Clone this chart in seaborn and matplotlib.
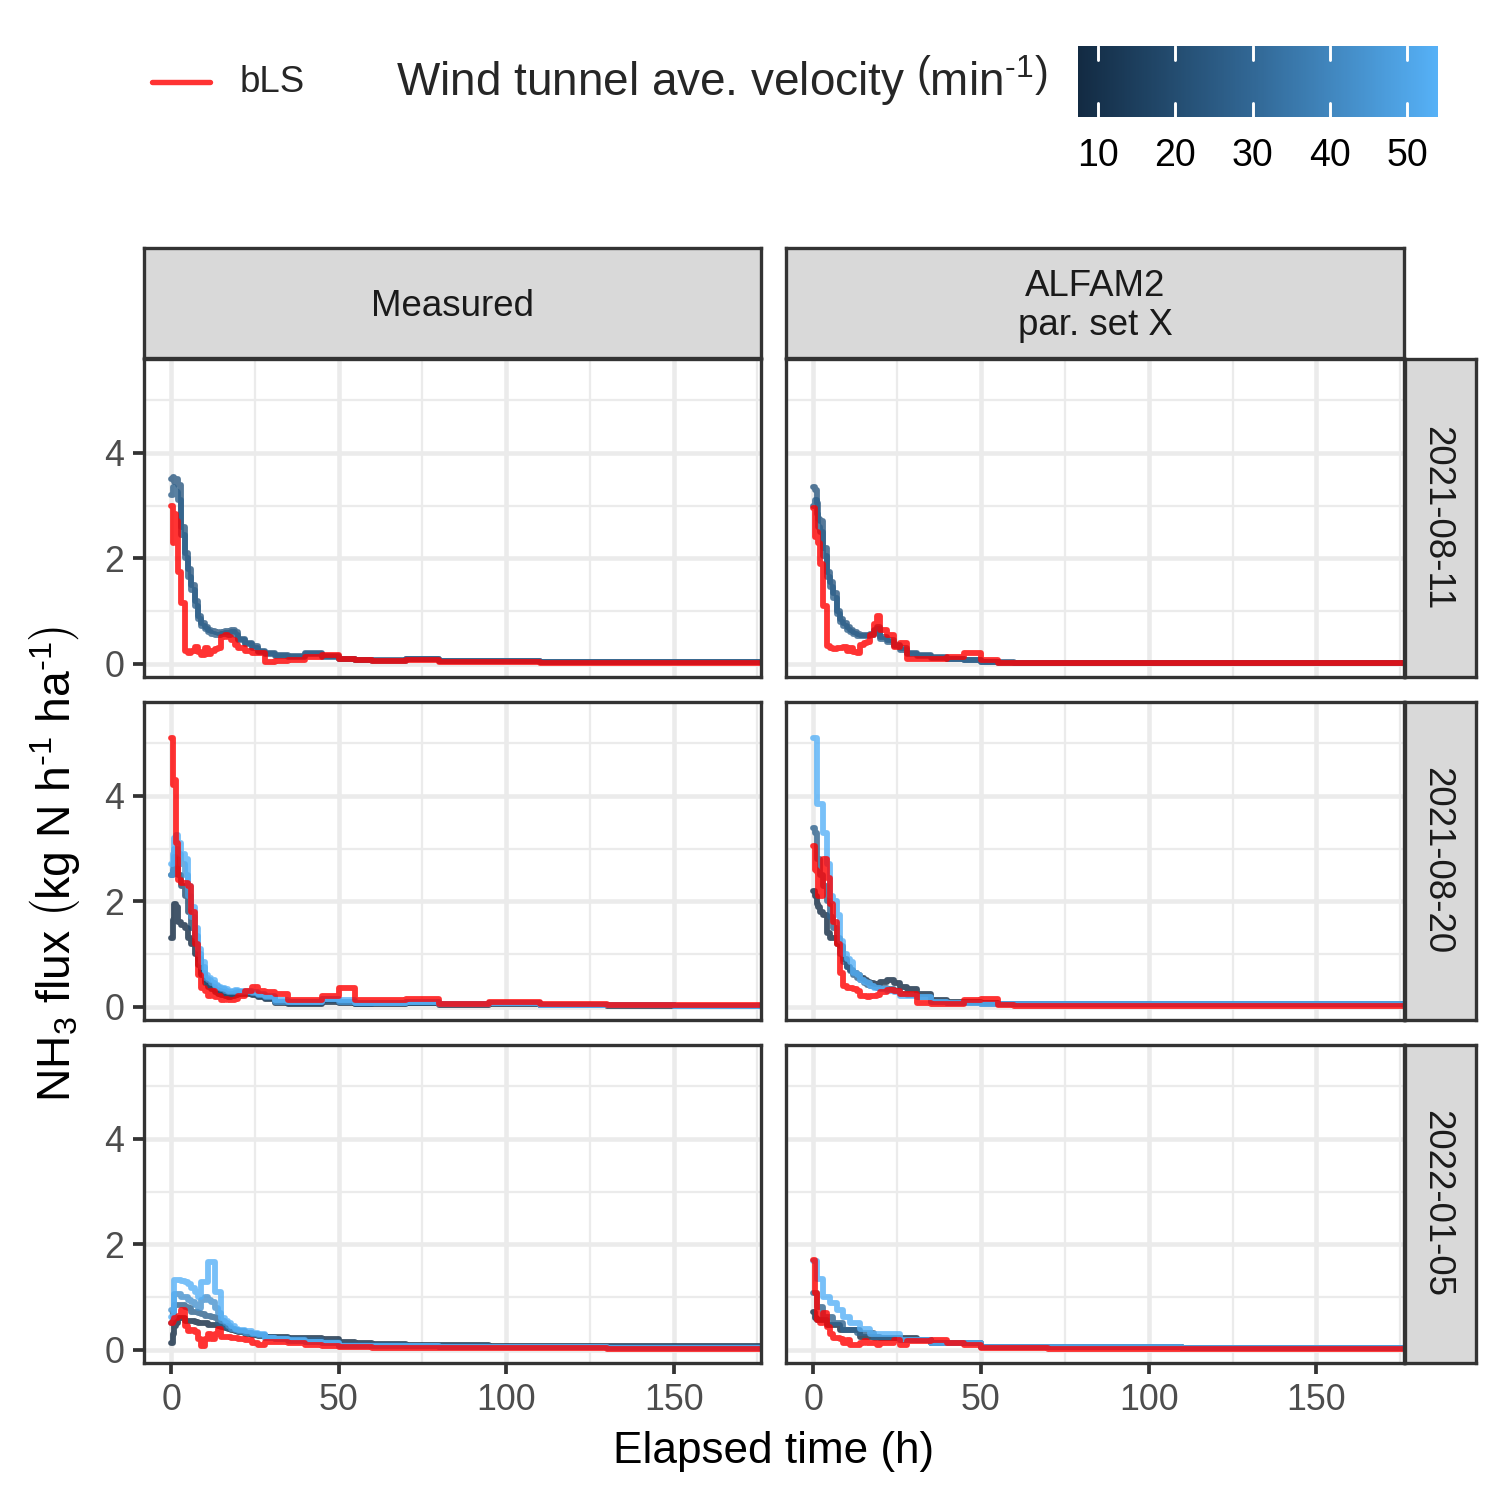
import numpy as np
import pandas as pd
import matplotlib
matplotlib.use("Agg")
import matplotlib.pyplot as plt
import seaborn as sns
from matplotlib.colors import LinearSegmentedColormap, Normalize
from matplotlib.lines import Line2D

# ---------------- data ----------------
elapsed_h = [0, 0.5, 1, 1.5, 2, 3, 4, 5, 6, 7,
             8, 9, 10, 11, 12, 13, 14, 15, 16, 17,
             18, 19, 20, 22, 24, 26, 28, 31, 35, 40,
             45, 50, 55, 60, 70, 80, 95, 110, 130, 150, 180]

dates = ["2021-08-11", "2021-08-20", "2022-01-05"]
sources = ["Measured", "ALFAM2\npar. set X"]

# 2021-08-11, measured
m1_vel = [24, 27]
m1_a = [3.50, 3.55, 3.45, 3.50, 3.40, 2.60, 2.10, 1.80, 1.50, 1.20,
        0.90, 0.78, 0.70, 0.65, 0.62, 0.60, 0.58, 0.60, 0.62, 0.60,
        0.65, 0.60, 0.48, 0.40, 0.33, 0.25, 0.20, 0.16, 0.14, 0.20,
        0.14, 0.10, 0.08, 0.07, 0.10, 0.05, 0.06, 0.04, 0.03, 0.04, 0.03]
m1_b = [3.20, 3.35, 3.30, 3.25, 3.10, 2.45, 2.00, 1.65, 1.40, 1.10,
        0.85, 0.72, 0.66, 0.60, 0.57, 0.55, 0.55, 0.57, 0.58, 0.55,
        0.60, 0.55, 0.45, 0.38, 0.30, 0.22, 0.18, 0.14, 0.13, 0.18,
        0.12, 0.09, 0.07, 0.06, 0.09, 0.05, 0.05, 0.03, 0.03, 0.04, 0.03]
m1_bls = [3.00, 2.30, 2.85, 2.70, 1.75, 1.15, 0.25, 0.20, 0.25, 0.31,
          0.22, 0.17, 0.30, 0.18, 0.25, 0.28, 0.30, 0.50, 0.55, 0.50,
          0.45, 0.35, 0.30, 0.25, 0.20, 0.20, 0.04, 0.05, 0.07, 0.12,
          0.17, 0.09, 0.07, 0.06, 0.08, 0.03, 0.03, 0.02, 0.02, 0.02, 0.01]

# 2021-08-11, ALFAM2
a1_vel = [24, 27]
a1_a = [3.36, 3.30, 3.05, 2.75, 2.70, 2.20, 1.75, 1.55, 1.35, 1.00,
        0.85, 0.78, 0.70, 0.65, 0.60, 0.57, 0.55, 0.55, 0.55, 0.57,
        0.65, 0.70, 0.50, 0.45, 0.36, 0.30, 0.20, 0.16, 0.12, 0.10,
        0.08, 0.04, 0.03, 0.02, 0.02, 0.02, 0.02, 0.02, 0.02, 0.02, 0.02]
a1_b = [3.00, 3.10, 2.85, 2.60, 2.50, 2.05, 1.65, 1.45, 1.25, 0.95,
        0.80, 0.72, 0.65, 0.60, 0.56, 0.53, 0.52, 0.52, 0.52, 0.55,
        0.62, 0.66, 0.48, 0.42, 0.33, 0.27, 0.18, 0.14, 0.11, 0.09,
        0.07, 0.03, 0.02, 0.02, 0.02, 0.02, 0.02, 0.02, 0.02, 0.02, 0.02]
a1_bls = [2.95, 2.40, 2.50, 2.30, 1.90, 1.10, 0.33, 0.30, 0.28, 0.30,
          0.30, 0.32, 0.25, 0.30, 0.22, 0.20, 0.35, 0.40, 0.42, 0.55,
          0.75, 0.90, 0.65, 0.55, 0.32, 0.40, 0.10, 0.10, 0.10, 0.12,
          0.20, 0.08, 0.02, 0.02, 0.02, 0.02, 0.02, 0.02, 0.02, 0.02, 0.02]

# 2021-08-20, measured
m2_vel = [54, 46, 20, 7.4]
m2_v54 = [2.70, 2.90, 3.20, 3.25, 3.10, 2.90, 2.80, 2.30, 1.90, 1.50,
          1.10, 0.85, 0.60, 0.55, 0.50, 0.42, 0.38, 0.36, 0.34, 0.30,
          0.30, 0.32, 0.30, 0.30, 0.28, 0.25, 0.20, 0.12, 0.10, 0.10,
          0.15, 0.12, 0.08, 0.08, 0.10, 0.06, 0.08, 0.03, 0.03, 0.02, 0.00]
m2_v46 = [2.50, 2.70, 3.00, 3.00, 2.90, 2.70, 2.50, 2.10, 1.70, 1.35,
          1.00, 0.75, 0.55, 0.50, 0.45, 0.40, 0.35, 0.33, 0.30, 0.28,
          0.28, 0.30, 0.28, 0.28, 0.26, 0.22, 0.18, 0.10, 0.10, 0.10,
          0.14, 0.10, 0.07, 0.08, 0.09, 0.05, 0.08, 0.03, 0.03, 0.02, 0.01]
m2_v20 = [2.50, 2.60, 2.85, 2.80, 2.50, 2.30, 2.10, 1.80, 1.50, 1.20,
          0.90, 0.65, 0.50, 0.42, 0.38, 0.32, 0.30, 0.28, 0.25, 0.22,
          0.25, 0.27, 0.28, 0.27, 0.24, 0.20, 0.16, 0.10, 0.08, 0.08,
          0.12, 0.10, 0.06, 0.07, 0.08, 0.05, 0.07, 0.03, 0.03, 0.02, 0.02]
m2_v7 = [1.30, 1.65, 1.95, 1.90, 1.60, 1.55, 1.50, 1.30, 1.20, 1.00,
         0.80, 0.60, 0.45, 0.38, 0.33, 0.28, 0.25, 0.22, 0.20, 0.18,
         0.20, 0.22, 0.25, 0.25, 0.22, 0.18, 0.14, 0.08, 0.06, 0.05,
         0.10, 0.08, 0.05, 0.06, 0.07, 0.04, 0.06, 0.03, 0.02, 0.02, 0.02]
m2_bls = [5.10, 4.20, 4.30, 3.10, 2.40, 2.35, 2.35, 2.30, 1.80, 1.20,
          0.60, 0.35, 0.30, 0.20, 0.30, 0.18, 0.20, 0.13, 0.15, 0.12,
          0.13, 0.15, 0.20, 0.30, 0.38, 0.30, 0.28, 0.25, 0.12, 0.13,
          0.20, 0.35, 0.12, 0.12, 0.15, 0.06, 0.10, 0.06, 0.04, 0.03, 0.02]

# 2021-08-20, ALFAM2
a2_vel = [54, 28, 7.4]
a2_v54 = [5.10, 5.10, 3.85, 3.85, 3.85, 3.30, 2.70, 2.10, 2.00, 1.75,
          1.25, 1.00, 0.90, 0.85, 0.65, 0.60, 0.50, 0.48, 0.45, 0.40,
          0.35, 0.35, 0.33, 0.30, 0.28, 0.20, 0.20, 0.18, 0.10, 0.08,
          0.08, 0.06, 0.05, 0.05, 0.05, 0.05, 0.05, 0.05, 0.05, 0.05, 0.05]
a2_v28 = [3.40, 3.30, 2.80, 2.80, 2.50, 2.30, 2.00, 1.70, 1.50, 1.30,
          1.00, 0.85, 0.75, 0.68, 0.60, 0.55, 0.50, 0.45, 0.42, 0.40,
          0.38, 0.36, 0.35, 0.33, 0.30, 0.25, 0.22, 0.18, 0.10, 0.08,
          0.07, 0.06, 0.05, 0.05, 0.05, 0.05, 0.05, 0.05, 0.05, 0.05, 0.05]
a2_v7 = [2.20, 2.10, 1.95, 1.90, 1.80, 1.75, 1.40, 1.30, 1.30, 1.20,
         1.15, 0.90, 0.75, 0.70, 0.65, 0.60, 0.55, 0.50, 0.47, 0.45,
         0.44, 0.44, 0.47, 0.50, 0.45, 0.38, 0.33, 0.25, 0.12, 0.10,
         0.09, 0.07, 0.06, 0.06, 0.05, 0.05, 0.05, 0.05, 0.05, 0.05, 0.05]
a2_bls = [3.05, 2.60, 2.55, 2.10, 2.10, 2.80, 2.45, 1.95, 1.60, 1.20,
          0.65, 0.40, 0.35, 0.35, 0.33, 0.30, 0.20, 0.20, 0.18, 0.20,
          0.20, 0.22, 0.28, 0.32, 0.30, 0.25, 0.24, 0.07, 0.06, 0.06,
          0.12, 0.15, 0.03, 0.02, 0.02, 0.02, 0.02, 0.02, 0.02, 0.02, 0.02]

# 2022-01-05, measured
m3_vel = [54, 44, 28, 7.4]
m3_v54 = [0.62, 0.62, 1.32, 1.32, 1.32, 1.30, 1.28, 1.25, 1.18, 1.10,
          1.00, 1.28, 1.28, 1.66, 1.66, 1.10, 1.10, 0.60, 0.55, 0.50,
          0.45, 0.40, 0.38, 0.35, 0.32, 0.30, 0.22, 0.20, 0.18, 0.15,
          0.12, 0.08, 0.08, 0.07, 0.07, 0.06, 0.05, 0.05, 0.04, 0.04, 0.03]
m3_v44 = [0.75, 0.75, 1.05, 1.05, 1.05, 1.00, 1.00, 0.95, 0.90, 0.85,
          0.80, 0.95, 1.00, 0.95, 0.90, 0.80, 0.70, 0.55, 0.50, 0.45,
          0.40, 0.38, 0.35, 0.32, 0.30, 0.28, 0.22, 0.20, 0.17, 0.14,
          0.12, 0.08, 0.08, 0.07, 0.07, 0.06, 0.05, 0.05, 0.04, 0.04, 0.03]
m3_v28 = [0.50, 0.70, 0.85, 0.85, 0.85, 0.85, 0.82, 0.80, 0.72, 0.72,
          0.70, 0.68, 0.65, 0.65, 0.62, 0.60, 0.50, 0.45, 0.45, 0.42,
          0.40, 0.38, 0.35, 0.32, 0.30, 0.28, 0.25, 0.22, 0.20, 0.18,
          0.15, 0.10, 0.10, 0.09, 0.08, 0.07, 0.06, 0.06, 0.05, 0.05, 0.04]
m3_v7 = [0.13, 0.30, 0.45, 0.50, 0.60, 0.60, 0.55, 0.55, 0.55, 0.52,
         0.50, 0.50, 0.50, 0.48, 0.48, 0.47, 0.45, 0.43, 0.42, 0.40,
         0.38, 0.36, 0.33, 0.30, 0.28, 0.27, 0.25, 0.25, 0.23, 0.22,
         0.20, 0.14, 0.12, 0.11, 0.10, 0.09, 0.08, 0.08, 0.07, 0.07, 0.05]
m3_bls = [0.50, 0.55, 0.60, 0.60, 0.65, 0.75, 0.45, 0.35, 0.38, 0.33,
          0.20, 0.08, 0.20, 0.30, 0.20, 0.30, 0.40, 0.25, 0.25, 0.24,
          0.22, 0.22, 0.20, 0.18, 0.12, 0.10, 0.15, 0.14, 0.12, 0.10,
          0.08, 0.05, 0.05, 0.04, 0.04, 0.03, 0.03, 0.03, 0.02, 0.02, 0.01]

# 2022-01-05, ALFAM2
a3_vel = [54, 28, 7.4]
a3_v54 = [1.68, 1.68, 1.35, 1.35, 1.35, 1.00, 1.00, 0.88, 0.88, 0.75,
          0.75, 0.63, 0.63, 0.50, 0.50, 0.50, 0.40, 0.40, 0.40, 0.30,
          0.30, 0.30, 0.30, 0.30, 0.30, 0.19, 0.19, 0.19, 0.12, 0.12,
          0.12, 0.06, 0.06, 0.06, 0.05, 0.05, 0.05, 0.04, 0.04, 0.04, 0.04]
a3_v28 = [1.07, 1.07, 0.82, 0.82, 0.82, 0.63, 0.63, 0.63, 0.50, 0.50,
          0.50, 0.38, 0.38, 0.38, 0.38, 0.31, 0.31, 0.31, 0.31, 0.31,
          0.22, 0.22, 0.22, 0.22, 0.22, 0.19, 0.19, 0.19, 0.12, 0.12,
          0.12, 0.06, 0.06, 0.06, 0.05, 0.05, 0.05, 0.04, 0.04, 0.04, 0.04]
a3_v7 = [0.72, 0.60, 0.57, 0.57, 0.57, 0.57, 0.47, 0.47, 0.47, 0.47,
         0.38, 0.38, 0.38, 0.38, 0.38, 0.38, 0.25, 0.25, 0.25, 0.25,
         0.25, 0.25, 0.22, 0.22, 0.22, 0.22, 0.22, 0.19, 0.12, 0.12,
         0.12, 0.06, 0.06, 0.06, 0.05, 0.05, 0.05, 0.04, 0.04, 0.04, 0.04]
a3_bls = [1.70, 1.07, 0.57, 0.57, 0.50, 0.69, 0.44, 0.30, 0.22, 0.22,
          0.20, 0.13, 0.19, 0.10, 0.10, 0.10, 0.12, 0.16, 0.12, 0.12,
          0.12, 0.10, 0.12, 0.12, 0.19, 0.10, 0.16, 0.16, 0.18, 0.12,
          0.10, 0.03, 0.03, 0.03, 0.02, 0.02, 0.02, 0.01, 0.01, 0.01, 0.01]

x_ticks = [0, 50, 100, 150]
y_ticks = [0, 2, 4]
cbar_ticks = [10, 20, 30, 40, 50]
vel_range = (7.4, 54.0)

# ---------------- style ----------------
sns.set_theme(style="white")
plt.rcParams["font.family"] = ["Liberation Sans", "DejaVu Sans"]
plt.rcParams["mathtext.fontset"] = "custom"
plt.rcParams["mathtext.rm"] = "Liberation Sans"
plt.rcParams["mathtext.it"] = "Liberation Sans:italic"
plt.rcParams["mathtext.bf"] = "Liberation Sans:bold"

cmap = LinearSegmentedColormap.from_list("gg", ["#132B43", "#336A98", "#56B1F7"])
norm = Normalize(*vel_range)

W = H = 1500
fig = plt.figure(figsize=(5, 5), dpi=300)
fig.patch.set_facecolor("white")


def fa(x0, y0, x1, y1):
    return fig.add_axes([x0 / W, 1 - y1 / H, (x1 - x0) / W, (y1 - y0) / H])


col_px = [(144, 761), (786, 1404)]
row_px = [(359, 677), (702, 1020), (1045, 1363)]

panels = {
    (0, 0): (list(zip(m1_vel, [m1_a, m1_b])), m1_bls),
    (0, 1): (list(zip(a1_vel, [a1_a, a1_b])), a1_bls),
    (1, 0): (list(zip(m2_vel, [m2_v54, m2_v46, m2_v20, m2_v7])), m2_bls),
    (1, 1): (list(zip(a2_vel, [a2_v54, a2_v28, a2_v7])), a2_bls),
    (2, 0): (list(zip(m3_vel, [m3_v54, m3_v44, m3_v28, m3_v7])), m3_bls),
    (2, 1): (list(zip(a3_vel, [a3_v54, a3_v28, a3_v7])), a3_bls),
}

border = "#333333"
LW = 1.4

for (r, c), (tunnels, bls) in panels.items():
    x0, x1 = col_px[c]
    y0, y1 = row_px[r]
    ax = fa(x0, y0, x1, y1)
    ax.set_facecolor("white")
    rows = []
    for k, (v, vals) in enumerate(tunnels):
        for t, f in zip(elapsed_h, vals):
            rows.append({"t": t, "flux": f, "vel": v, "sid": k})
    df = pd.DataFrame(rows)
    sns.lineplot(data=df, x="t", y="flux", hue="vel", units="sid", estimator=None,
                 palette=cmap, hue_norm=norm, drawstyle="steps-post", lw=LW,
                 alpha=0.8, legend=False, ax=ax)
    sns.lineplot(x=elapsed_h, y=bls, color="red", alpha=0.8, estimator=None,
                 drawstyle="steps-post", lw=LW, ax=ax)
    ax.set_xlim(-8.1, 176.1)
    ax.set_ylim(-0.25, 5.78)
    ax.set_xticks(x_ticks)
    ax.set_xticks([25, 75, 125, 175], minor=True)
    ax.set_yticks(y_ticks)
    ax.set_yticks([1, 3, 5], minor=True)
    ax.grid(which="major", color="#EBEBEB", lw=1.1)
    ax.grid(which="minor", color="#EBEBEB", lw=0.55)
    ax.set_axisbelow(True)
    for s in ax.spines.values():
        s.set_color(border)
        s.set_linewidth(0.8)
    ax.set_xlabel("")
    ax.set_ylabel("")
    ax.tick_params(which="minor", length=0)
    ax.tick_params(which="major", length=2.7, width=0.9, color=border,
                   labelsize=8.6, labelcolor="#4D4D4D", pad=2)
    ax.tick_params(axis="x", bottom=(r == 2), labelbottom=(r == 2))
    ax.tick_params(axis="y", left=(c == 0), labelleft=(c == 0))
    ax.set_xticklabels([str(v) for v in x_ticks])
    ax.set_yticklabels([str(v) for v in y_ticks])


def strip(x0, y0, x1, y1, text, rot=0, tx=0.5, ty=0.5):
    s = fa(x0, y0, x1, y1)
    s.set_facecolor("#D9D9D9")
    s.set_xticks([])
    s.set_yticks([])
    for sp in s.spines.values():
        sp.set_color(border)
        sp.set_linewidth(0.8)
    s.text(tx, ty, text, transform=s.transAxes, ha="center", va="center",
           rotation=rot, fontsize=8.8, color="#1A1A1A", linespacing=1.15)


for c, name in enumerate(sources):
    strip(col_px[c][0], 248, col_px[c][1], 358, name, ty=0.47)
for r, d in enumerate(dates):
    strip(1405, row_px[r][0], 1476, row_px[r][1], d, rot=-90, tx=0.44, ty=0.5)

# axis titles
fig.text(774 / W, 1 - 1451 / H, "Elapsed time (h)", ha="center", va="center",
         fontsize=10.6, color="black")
fig.text(55 / W, 1 - 864 / H,
         r"NH$_3$ flux $\left(\mathrm{kg\ N\ h^{\text{-}1}\ ha^{\text{-}1}}\right)$",
         ha="center", va="center", rotation=90, fontsize=11.1, color="black")

# legend: bLS
fig.add_artist(Line2D([152 / W, 210 / W], [1 - 82 / H, 1 - 82 / H], color="red",
                      alpha=0.8, lw=1.3, transform=fig.transFigure))
fig.text(240 / W, 1 - 82 / H, "bLS", ha="left", va="center", fontsize=8.8)
fig.text(396 / W, 1 - 80 / H,
         r"Wind tunnel ave. velocity $\left(\mathrm{min^{\text{-}1}}\right)$",
         ha="left", va="center", fontsize=11.0)

# colourbar
cax = fa(1078, 46, 1438, 117)
grad = np.linspace(vel_range[0], vel_range[1], 300).reshape(1, -1)
cax.imshow(grad, aspect="auto", cmap=cmap, norm=norm,
           extent=[vel_range[0], vel_range[1], 0, 1], origin="lower")
cax.set_xlim(*vel_range)
cax.set_ylim(0, 1)
for tv in cbar_ticks:
    cax.plot([tv, tv], [0, 0.2], color="white", lw=0.7)
    cax.plot([tv, tv], [0.8, 1], color="white", lw=0.7)
cax.set_yticks([])
cax.set_xticks(cbar_ticks)
cax.set_xticklabels([str(v) for v in cbar_ticks])
cax.tick_params(axis="x", length=0, labelsize=9.0, labelcolor="black", pad=5)
for sp in cax.spines.values():
    sp.set_visible(False)

fig.savefig("out.png", dpi=300, facecolor="white")
